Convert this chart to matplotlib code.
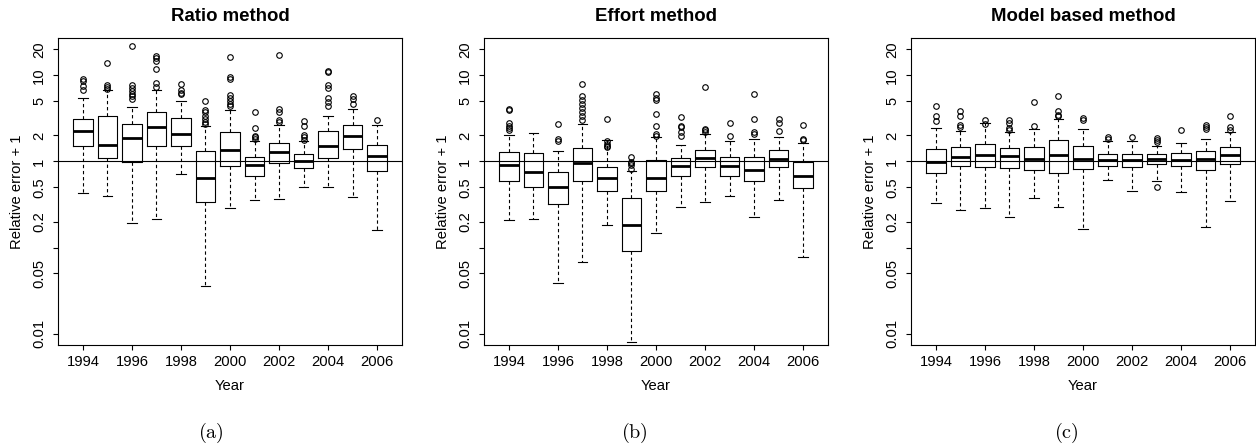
import numpy as np
import matplotlib.pyplot as plt
from matplotlib.ticker import NullLocator

plt.rcParams['font.family'] = ['Liberation Sans', 'DejaVu Sans']
plt.rcParams['mathtext.fontset'] = 'cm'

years = list(range(1994, 2007))

# Ratio method
ratio_whislo = [0.43, 0.40, 0.195, 0.213, 0.71, 0.036, 0.29, 0.36, 0.37, 0.50, 0.51, 0.39, 0.158]
ratio_q1 = [1.49, 1.09, 0.98, 1.53, 1.52, 0.336, 0.89, 0.68, 0.96, 0.84, 1.09, 1.39, 0.765]
ratio_med = [2.23, 1.56, 1.87, 2.49, 2.10, 0.64, 1.34, 0.90, 1.27, 1.00, 1.53, 1.95, 1.16]
ratio_q3 = [3.13, 3.33, 2.69, 3.71, 3.19, 1.31, 2.19, 1.12, 1.63, 1.22, 2.23, 2.67, 1.56]
ratio_whishi = [5.45, 6.8, 4.28, 6.7, 4.99, 2.60, 3.92, 1.71, 2.62, 1.71, 3.40, 4.06, 2.62]
ratio_fliers = [
    [9.06, 8.5, 7.6, 6.8],
    [13.9, 7.8, 7.3, 6.9],
    [22.1, 7.8, 7.1, 6.5, 6.1, 5.7, 5.35],
    [16.9, 15.9, 14.5, 11.8, 8.1, 7.3],
    [8.0, 6.7, 6.3, 6.1],
    [5.0, 4.0, 3.7, 3.4, 3.1, 2.84, 2.74],
    [16.2, 9.5, 9.0, 5.96, 5.4, 5.0, 4.7, 4.36],
    [3.71, 2.44, 1.99, 1.92, 1.82],
    [17.1, 4.06, 3.71, 3.0, 2.84],
    [2.92, 2.6, 2.04, 1.92, 1.79],
    [11.3, 10.8, 7.8, 7.1, 5.45, 4.85, 4.36],
    [5.8, 5.3, 4.65],
    [3.0],
]

# Effort method
effort_whislo = [0.206, 0.215, 0.039, 0.068, 0.182, 0.008, 0.147, 0.294, 0.334, 0.40, 0.225, 0.358, 0.0786]
effort_q1 = [0.60, 0.50, 0.322, 0.60, 0.456, 0.0906, 0.456, 0.68, 0.85, 0.68, 0.60, 0.86, 0.49]
effort_med = [0.90, 0.76, 0.50, 0.96, 0.64, 0.182, 0.65, 0.89, 1.11, 0.875, 0.80, 1.06, 0.68]
effort_q3 = [1.27, 1.25, 0.76, 1.45, 0.85, 0.375, 1.03, 1.11, 1.37, 1.12, 1.14, 1.37, 0.98]
effort_whishi = [2.04, 2.13, 1.31, 2.72, 1.75, 0.765, 1.92, 1.56, 2.10, 1.71, 1.82, 1.92, 1.63]
effort_fliers = [
    [4.06, 4.0, 2.79, 2.6, 2.44, 2.29],
    [],
    [2.74, 1.82, 1.71],
    [8.0, 5.8, 5.1, 4.7, 4.17, 3.71, 3.33, 3.05],
    [3.1, 1.71, 1.60, 1.52, 1.47],
    [1.12, 0.98, 0.95, 0.92, 0.81],
    [6.1, 5.5, 5.1, 3.58, 2.55, 2.08, 1.99],
    [3.25, 2.55, 2.49, 2.17, 1.95],
    [7.3, 2.38, 2.29, 2.17],
    [2.79, 1.99],
    [6.1, 3.1, 2.17, 2.08],
    [3.13, 2.79, 2.23],
    [2.62, 1.82, 1.79],
]

# Model based method
model_whislo = [0.328, 0.27, 0.287, 0.229, 0.375, 0.292, 0.163, 0.61, 0.45, 0.60, 0.44, 0.175, 0.343]
model_q1 = [0.73, 0.89, 0.86, 0.84, 0.80, 0.73, 0.81, 0.875, 0.86, 0.93, 0.875, 0.80, 0.93]
model_med = [0.98, 1.14, 1.20, 1.16, 1.07, 1.20, 1.06, 1.03, 1.03, 1.06, 1.05, 1.06, 1.20]
model_q3 = [1.40, 1.47, 1.61, 1.43, 1.47, 1.79, 1.49, 1.23, 1.23, 1.22, 1.25, 1.33, 1.47]
model_whishi = [2.44, 2.23, 2.79, 2.19, 2.40, 3.1, 2.38, 1.71, 1.71, 1.53, 1.63, 1.82, 2.17]
model_fliers = [
    [4.36, 3.33, 2.92],
    [3.88, 3.4, 2.67, 2.49],
    [3.0, 2.74],
    [3.05, 2.79, 2.44, 2.29],
    [4.85, 2.55],
    [5.8, 3.88, 3.49, 3.33],
    [3.19, 3.05],
    [1.90, 1.82],
    [1.92],
    [1.87, 1.75, 1.66, 0.51],
    [2.33],
    [2.67, 2.51, 2.40],
    [3.33, 2.51, 2.33],
]

titles = ["Ratio method", "Effort method", "Model based method"]
captions = ["(a)", "(b)", "(c)"]
yticks = [0.01, 0.05, 0.1, 0.2, 0.5, 1, 2, 5, 10, 20]
yticklabels = ["0.01", "0.05", "", "0.2", "0.5", "1", "2", "5", "10", "20"]

panels = [
    (ratio_whislo, ratio_q1, ratio_med, ratio_q3, ratio_whishi, ratio_fliers),
    (effort_whislo, effort_q1, effort_med, effort_q3, effort_whishi, effort_fliers),
    (model_whislo, model_q1, model_med, model_q3, model_whishi, model_fliers),
]

W, H = 1256, 447
fig = plt.figure(figsize=(W / 100, H / 100), dpi=100)

lefts = [58, 484, 911]
cap_x = [211, 634, 1066]

# R style ylim=c(0.01, 20) with 4% padding in log space
lo, hi = np.log10(0.01), np.log10(20)
pad = 0.04 * (hi - lo)
ylim = (10 ** (lo - pad), 10 ** (hi + pad))

for i, (whislo, q1, med, q3, whishi, fliers) in enumerate(panels):
    ax = fig.add_axes([lefts[i] / W, 1 - 345 / H, 344 / W, 307 / H])
    stats = []
    for j in range(len(years)):
        stats.append(dict(whislo=whislo[j], q1=q1[j], med=med[j], q3=q3[j],
                          whishi=whishi[j], fliers=fliers[j]))
    ax.axhline(1, color="black", lw=0.8, zorder=1)
    ax.bxp(stats, positions=years, widths=0.8, capwidths=0.4,
           boxprops=dict(color="black", lw=0.8),
           medianprops=dict(color="black", lw=2.0, solid_capstyle="butt"),
           whiskerprops=dict(color="black", lw=0.8, linestyle=(0, (3, 2.5))),
           capprops=dict(color="black", lw=0.8),
           flierprops=dict(marker="o", markerfacecolor="none", markeredgecolor="black",
                           markersize=4, markeredgewidth=0.8, linestyle="none"))
    ax.set_yscale("log")
    ax.set_ylim(*ylim)
    ax.set_xlim(1992.98, 2007.02)
    ax.set_yticks(yticks)
    ax.set_yticklabels(yticklabels)
    ax.yaxis.set_minor_locator(NullLocator())
    ax.set_xticks(years[::2])
    ax.set_xticklabels([str(y) for y in years[::2]])
    ax.tick_params(axis="both", labelsize=10.6, length=3.6, width=0.8)
    ax.tick_params(axis="x", pad=3.5)
    ax.tick_params(axis="y", labelrotation=90, pad=5)
    for lbl in ax.get_yticklabels():
        lbl.set_va("center")
    for s in ax.spines.values():
        s.set_linewidth(0.8)
    ax.set_title(titles[i], fontweight="bold", fontsize=13.4, pad=12)
    ax.set_xlabel("Year", fontsize=10.6, labelpad=7)
    ax.set_ylabel("Relative error + 1", fontsize=10.6, labelpad=6)
    fig.text(cap_x[i] / W, 1 - 433 / H, r"$\mathrm{%s}$" % captions[i],
             ha="center", va="center", fontsize=14.5)

fig.savefig("out.png", dpi=100)
